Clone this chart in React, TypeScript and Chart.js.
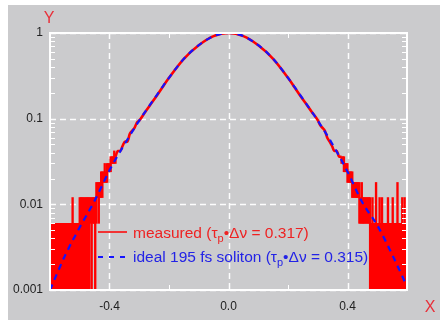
import React, { useEffect, useRef } from "react";
import { Chart, registerables } from "chart.js";

Chart.register(...registerables);

// ---------- data ----------
// ideal 195 fs soliton (blue dashed)
const idealX = [-0.60, -0.55, -0.50, -0.45, -0.40, -0.35, -0.30, -0.25, -0.20, -0.15, -0.10, -0.05, 0, 0.05, 0.10, 0.15, 0.20, 0.25, 0.30, 0.35, 0.40, 0.45, 0.50, 0.55, 0.60];
const idealY = [0.0010, 0.0025, 0.0054, 0.0110, 0.0250, 0.050, 0.095, 0.170, 0.300, 0.500, 0.720, 0.920, 1.0, 0.920, 0.720, 0.500, 0.300, 0.170, 0.095, 0.050, 0.024, 0.0105, 0.0057, 0.0026, 0.0011];

// measured, central part (red line)
const centerX = [-0.380, -0.372, -0.364, -0.356, -0.348, -0.340, -0.332, -0.324, -0.316, -0.308, -0.300, -0.28, -0.26, -0.24, -0.22, -0.20, -0.15, -0.10, -0.05, 0, 0.05, 0.10, 0.15, 0.20, 0.22, 0.24, 0.26, 0.28, 0.300, 0.308, 0.316, 0.324, 0.332, 0.340, 0.348, 0.356, 0.364, 0.372, 0.380];
const centerY = [0.036, 0.042, 0.042, 0.048, 0.054, 0.054, 0.066, 0.072, 0.078, 0.090, 0.095, 0.120, 0.150, 0.188, 0.238, 0.300, 0.500, 0.720, 0.920, 1.0, 0.920, 0.720, 0.500, 0.300, 0.238, 0.188, 0.150, 0.120, 0.096, 0.084, 0.078, 0.072, 0.060, 0.054, 0.048, 0.042, 0.042, 0.036, 0.036];

// measured, noisy wings: range swept by the quantised signal at each x (low, high)
const leftWingX = [-0.600, -0.596, -0.592, -0.588, -0.584, -0.580, -0.576, -0.572, -0.568, -0.564, -0.560, -0.556, -0.552, -0.548, -0.544, -0.540, -0.536, -0.532, -0.528, -0.524, -0.520, -0.516, -0.512, -0.508, -0.504, -0.500, -0.496, -0.492, -0.488, -0.484, -0.480, -0.476, -0.472, -0.468, -0.464, -0.460, -0.456, -0.452, -0.448, -0.444, -0.440, -0.436, -0.432, -0.428, -0.424, -0.420, -0.416, -0.412, -0.408, -0.404, -0.400, -0.396, -0.392, -0.388, -0.384, -0.380];
const leftWingLow = [0.0005, 0.0005, 0.0005, 0.0005, 0.0005, 0.0005, 0.0005, 0.0005, 0.0005, 0.0005, 0.0005, 0.0005, 0.0005, 0.0005, 0.0005, 0.0005, 0.0005, 0.0005, 0.0005, 0.0005, 0.0005, 0.0005, 0.0005, 0.0005, 0.0005, 0.0005, 0.0005, 0.0005, 0.0005, 0.0005, 0.0005, 0.0005, 0.0005, 0.0005, 0.006, 0.0005, 0.006, 0.006, 0.0005, 0.006, 0.012, 0.006, 0.012, 0.012, 0.012, 0.018, 0.018, 0.018, 0.018, 0.024, 0.024, 0.024, 0.030, 0.030, 0.030, 0.030];
const leftWingHigh = [0.006, 0.006, 0.006, 0.006, 0.006, 0.006, 0.006, 0.006, 0.006, 0.006, 0.006, 0.006, 0.006, 0.006, 0.006, 0.006, 0.006, 0.006, 0.006, 0.012, 0.006, 0.006, 0.006, 0.006, 0.006, 0.012, 0.012, 0.012, 0.012, 0.012, 0.012, 0.012, 0.012, 0.012, 0.012, 0.012, 0.012, 0.012, 0.012, 0.018, 0.018, 0.018, 0.018, 0.024, 0.024, 0.024, 0.030, 0.024, 0.030, 0.030, 0.030, 0.036, 0.036, 0.036, 0.042, 0.036];

const rightWingX = [0.380, 0.384, 0.388, 0.392, 0.396, 0.400, 0.404, 0.408, 0.412, 0.416, 0.420, 0.424, 0.428, 0.432, 0.436, 0.440, 0.444, 0.448, 0.452, 0.456, 0.460, 0.464, 0.468, 0.472, 0.476, 0.480, 0.484, 0.488, 0.492, 0.496, 0.500, 0.504, 0.508, 0.512, 0.516, 0.520, 0.524, 0.528, 0.532, 0.536, 0.540, 0.544, 0.548, 0.552, 0.556, 0.560, 0.564, 0.568, 0.572, 0.576, 0.580, 0.584, 0.588, 0.592, 0.596, 0.600];
const rightWingLow = [0.030, 0.030, 0.024, 0.024, 0.024, 0.018, 0.018, 0.018, 0.018, 0.012, 0.012, 0.012, 0.012, 0.012, 0.012, 0.006, 0.006, 0.006, 0.006, 0.006, 0.006, 0.006, 0.006, 0.006, 0.0005, 0.0005, 0.0005, 0.0005, 0.0005, 0.0005, 0.0005, 0.0005, 0.0005, 0.0005, 0.0005, 0.0005, 0.0005, 0.0005, 0.0005, 0.0005, 0.0005, 0.0005, 0.0005, 0.0005, 0.0005, 0.0005, 0.0005, 0.0005, 0.0005, 0.0005, 0.0005, 0.0005, 0.0005, 0.0005, 0.0005, 0.0005];
const rightWingHigh = [0.036, 0.036, 0.036, 0.030, 0.030, 0.030, 0.024, 0.024, 0.024, 0.024, 0.018, 0.018, 0.018, 0.018, 0.018, 0.018, 0.012, 0.018, 0.012, 0.012, 0.012, 0.012, 0.012, 0.012, 0.012, 0.006, 0.012, 0.006, 0.006, 0.018, 0.006, 0.006, 0.012, 0.006, 0.012, 0.006, 0.006, 0.006, 0.006, 0.012, 0.006, 0.006, 0.006, 0.012, 0.006, 0.006, 0.006, 0.018, 0.006, 0.006, 0.006, 0.012, 0.006, 0.012, 0.006, 0.006];

const xTickValues = [-0.4, 0, 0.4];
const xTickLabels = ["-0.4", "0.0", "0.4"];
const xMinorTicks = [-0.2, 0.2];
const yTickValues = [0.001, 0.01, 0.1, 1];
const yTickLabels = ["0.001", "0.01", "0.1", "1"];
const yMinorTicks = [0.002, 0.003, 0.004, 0.005, 0.006, 0.007, 0.008, 0.009, 0.02, 0.03, 0.04, 0.05, 0.06, 0.07, 0.08, 0.09, 0.2, 0.3, 0.4, 0.5, 0.6, 0.7, 0.8, 0.9];

const legendMeasured = ["measured (τ", "p", "•Δν = 0.317)"];
const legendIdeal = ["ideal 195 fs soliton (τ", "p", "•Δν = 0.315)"];

// ---------- styles ----------
const FONT = '"Liberation Sans", Arial, Helvetica, sans-serif';
const BG = "#cbcbcd";
const RED = "#ff0000";
const BLUE = "#1414ff";
const RED_TEXT = "#ee2222";
const BLUE_TEXT = "#2323e6";
const AXIS_RED = "#e8303a";

const pts = (xs: number[], ys: number[]) => xs.map((x, i) => ({ x, y: ys[i] }));
const ranges = (xs: number[], lo: number[], hi: number[]) => xs.map((x, i) => ({ x, y: [lo[i], hi[i]] }));

const framePlugin = {
  id: "framePlugin",
  beforeDatasetsDraw(chart: any) {
    const { ctx, chartArea: a, scales } = chart;
    const x = scales.x;
    const y = scales.y;
    ctx.save();
    ctx.strokeStyle = "rgba(255,255,255,0.95)";
    ctx.lineWidth = 1.5;
    ctx.setLineDash([6, 4]);
    for (const v of xTickValues) {
      const px = Math.round(x.getPixelForValue(v)) + 0.5;
      ctx.beginPath();
      ctx.moveTo(px, a.top);
      ctx.lineTo(px, a.bottom);
      ctx.stroke();
    }
    for (const v of yTickValues) {
      const py = Math.round(y.getPixelForValue(v)) + 0.5;
      ctx.beginPath();
      ctx.moveTo(a.left, py);
      ctx.lineTo(a.right, py);
      ctx.stroke();
    }
    ctx.restore();
  },
  afterDatasetsDraw(chart: any) {
    const { ctx, chartArea: a, scales } = chart;
    const x = scales.x;
    const y = scales.y;
    ctx.save();
    ctx.strokeStyle = "#ffffff";
    ctx.setLineDash([]);
    ctx.lineWidth = 1;
    for (const v of yMinorTicks) {
      const py = Math.round(y.getPixelForValue(v)) + 0.5;
      ctx.beginPath();
      ctx.moveTo(a.left, py);
      ctx.lineTo(a.left + 5, py);
      ctx.moveTo(a.right - 5, py);
      ctx.lineTo(a.right, py);
      ctx.stroke();
    }
    for (const v of xMinorTicks) {
      const px = Math.round(x.getPixelForValue(v)) + 0.5;
      ctx.beginPath();
      ctx.moveTo(px, a.top);
      ctx.lineTo(px, a.top + 5);
      ctx.moveTo(px, a.bottom - 5);
      ctx.lineTo(px, a.bottom);
      ctx.stroke();
    }
    ctx.lineWidth = 2;
    ctx.strokeRect(a.left, a.top, a.right - a.left, a.bottom - a.top);
    ctx.restore();
  },
  afterDraw(chart: any) {
    const { ctx } = chart;
    ctx.save();
    ctx.font = `16px ${FONT}`;
    ctx.fillStyle = AXIS_RED;
    ctx.textAlign = "center";
    ctx.textBaseline = "middle";
    ctx.fillText("Y", 41, 14);
    ctx.fillText("X", 422, 303);

    const drawRich = (x0: number, base: number, parts: string[], color: string) => {
      let cx = x0;
      ctx.fillStyle = color;
      ctx.textAlign = "left";
      ctx.textBaseline = "alphabetic";
      parts.forEach((p, i) => {
        const sub = i === 1;
        ctx.font = sub ? `11px ${FONT}` : `15.5px ${FONT}`;
        ctx.fillText(p, cx, base + (sub ? 4 : 0));
        cx += ctx.measureText(p).width;
      });
    };
    ctx.lineWidth = 1.5;
    ctx.strokeStyle = RED;
    ctx.beginPath();
    ctx.moveTo(90, 227);
    ctx.lineTo(119, 227);
    ctx.stroke();
    drawRich(125, 233, legendMeasured, RED_TEXT);

    ctx.lineWidth = 2;
    ctx.strokeStyle = BLUE;
    ctx.setLineDash([5, 6]);
    ctx.beginPath();
    ctx.moveTo(90, 252);
    ctx.lineTo(121, 252);
    ctx.stroke();
    ctx.setLineDash([]);
    drawRich(125, 257, legendIdeal, BLUE_TEXT);
    ctx.restore();
  },
};

export default function App() {
  const ref = useRef<HTMLCanvasElement | null>(null);
  useEffect(() => {
    if (!ref.current) return;
    const wing = (xs: number[], lo: number[], hi: number[]) => ({
      type: "bar",
      data: ranges(xs, lo, hi),
      backgroundColor: RED,
      borderWidth: 0,
      barThickness: 1.7,
      grouped: false,
      clip: 0,
    });
    const chart = new Chart(ref.current, {
      type: "line",
      data: {
        datasets: [
          {
            type: "line",
            data: pts(idealX, idealY),
            borderColor: BLUE,
            borderWidth: 2.2,
            borderDash: [6, 5],
            pointRadius: 0,
            cubicInterpolationMode: "monotone",
            fill: false,
          },
          {
            type: "line",
            data: pts(centerX, centerY),
            borderColor: RED,
            borderWidth: 2.6,
            pointRadius: 0,
            cubicInterpolationMode: "monotone",
            fill: false,
          },
          wing(leftWingX, leftWingLow, leftWingHigh),
          wing(rightWingX, rightWingLow, rightWingHigh),
        ] as any,
      },
      options: {
        animation: false,
        responsive: false,
        devicePixelRatio: 1,
        layout: { padding: { top: 28, right: 33, left: 0, bottom: 0 } },
        plugins: { legend: { display: false }, tooltip: { enabled: false } },
        scales: {
          x: {
            type: "linear",
            min: -0.6,
            max: 0.6,
            offset: false,
            grid: { display: false, drawTicks: false, offset: false },
            border: { display: false },
            afterBuildTicks: (s: any) => {
              s.ticks = xTickValues.map((v) => ({ value: v }));
            },
            afterFit: (s: any) => {
              s.height = 30;
            },
            ticks: {
              autoSkip: false,
              maxRotation: 0,
              padding: 9,
              color: "#222",
              font: { family: FONT, size: 12 },
              callback: (v: any) => {
                const i = xTickValues.findIndex((t) => Math.abs(t - Number(v)) < 1e-9);
                return i >= 0 ? xTickLabels[i] : "";
              },
            },
          },
          y: {
            type: "logarithmic",
            min: 0.001,
            max: 1,
            grid: { display: false, drawTicks: false },
            border: { display: false },
            afterBuildTicks: (s: any) => {
              s.ticks = yTickValues.map((v) => ({ value: v }));
            },
            afterFit: (s: any) => {
              s.width = 42;
            },
            ticks: {
              autoSkip: false,
              padding: 7,
              color: "#222",
              font: { family: FONT, size: 12 },
              callback: (v: any) => {
                const i = yTickValues.findIndex((t) => Math.abs(t - Number(v)) < 1e-12);
                return i >= 0 ? yTickLabels[i] : "";
              },
            },
          },
        },
      } as any,
      plugins: [framePlugin],
    });
    return () => chart.destroy();
  }, []);

  return (
    <div style={{ position: "absolute", left: 8, top: 5, width: 432, height: 315, background: BG }}>
      <canvas ref={ref} width={432} height={315} style={{ display: "block" }} />
    </div>
  );
}
